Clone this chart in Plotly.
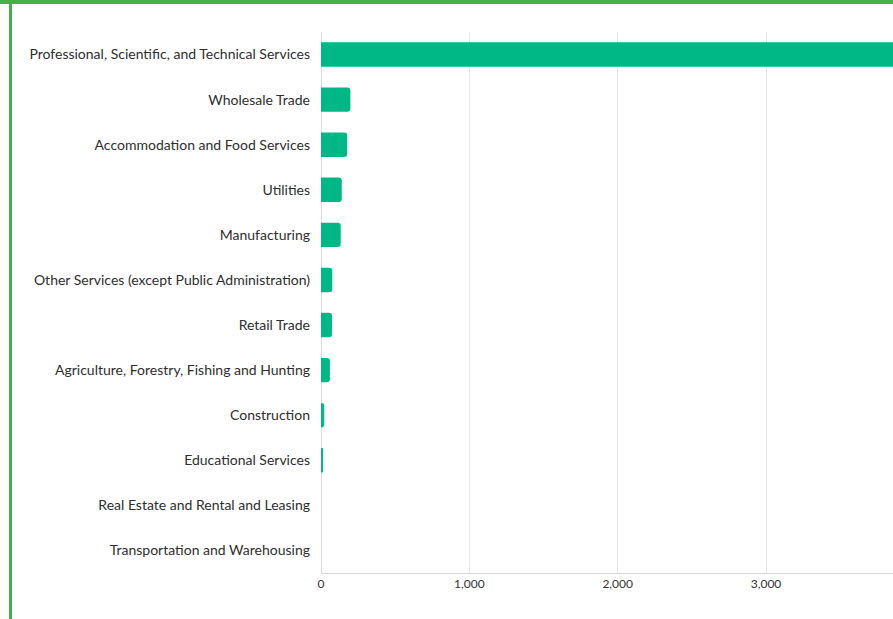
import plotly.graph_objects as go

categories = [
    "Professional, Scientific, and Technical Services",
    "Wholesale Trade",
    "Accommodation and Food Services",
    "Utilities",
    "Manufacturing",
    "Other Services (except Public Administration)",
    "Retail Trade",
    "Agriculture, Forestry, Fishing and Hunting",
    "Construction",
    "Educational Services",
    "Real Estate and Rental and Leasing",
    "Transportation and Warehousing",
]
values = [4300, 198, 176, 140, 133, 76, 74, 60, 22, 8, 0, 0]
tick_vals = [0, 1000, 2000, 3000, 4000]

W, H = 893, 619
ML, MR, MT, MB = 321, 0, 32, 46
pw, ph = W - ML - MR, H - MT - MB

def px_x(p):
    return (p - ML) / pw

def px_y(p):
    return (H - MB - p) / ph

fig = go.Figure(go.Bar(
    x=values, y=categories, orientation="h",
    marker=dict(color="#00b886", line=dict(width=0)),
))

fig.update_layout(
    width=W, height=H,
    margin=dict(l=ML, r=MR, t=MT, b=MB, pad=0),
    paper_bgcolor="white", plot_bgcolor="white",
    bargap=0.46, barcornerradius=3,
    font=dict(family="Lato", color="#2e2e2e"),
    showlegend=False,
    xaxis=dict(range=[0, 3856], tickvals=tick_vals, tickformat=",",
               showgrid=True, gridcolor="#e6e6e6", gridwidth=1,
               zeroline=True, zerolinecolor="#dddddd", zerolinewidth=1,
               showline=True, linecolor="#d6d6d6", linewidth=1,
               ticks="", tickfont=dict(size=12, color="#333333")),
    yaxis=dict(categoryorder="array", categoryarray=categories,
               autorange="reversed", ticks="", ticklabelstandoff=10,
               tickfont=dict(size=14, color="#2e2e2e"), showgrid=False),
    shapes=[
        dict(type="line", xref="paper", yref="paper",
             x0=px_x(0), x1=px_x(W), y0=px_y(2), y1=px_y(2),
             line=dict(color="#45b045", width=4)),
        dict(type="line", xref="paper", yref="paper",
             x0=px_x(10.5), x1=px_x(10.5), y0=px_y(0), y1=px_y(H),
             line=dict(color="#45b045", width=3)),
    ],
)

fig.write_html(
    "out.html",
    config={"displayModeBar": False},
    post_script="document.body.style.margin='0';document.body.style.overflow='hidden';",
)
